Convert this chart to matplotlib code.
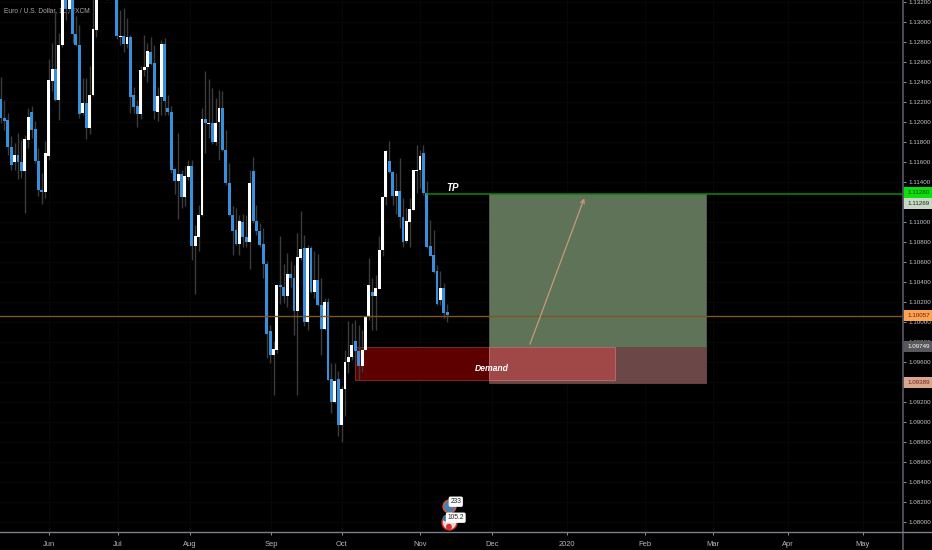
import numpy as np
import matplotlib
matplotlib.use('Agg')
import matplotlib.pyplot as plt
from matplotlib.lines import Line2D
from matplotlib.patches import Rectangle

plt.rcParams['font.family'] = ['Liberation Sans', 'DejaVu Sans']

# EURUSD daily candles
opens = [1.12227, 1.1204, 1.12013, 1.11747, 1.11597, 1.11667, 1.11597, 1.11503, 1.1182, 1.12097,
         1.11927, 1.1161, 1.1132, 1.11293, 1.1166, 1.1241, 1.12527, 1.12213, 1.12763, 1.1327,
         1.13127, 1.1326, 1.1288, 1.1277, 1.12087, 1.12187, 1.11933, 1.1227, 1.1292, 1.133,
         1.1347, 1.1337, 1.1334, 1.1352, 1.1332, 1.12847, 1.12853, 1.1278, 1.12847, 1.1227,
         1.12153, 1.1208, 1.12513, 1.12543, 1.127, 1.12587, 1.121, 1.12247, 1.1278, 1.1214,
         1.121, 1.11527, 1.11403, 1.1148, 1.11247, 1.11447, 1.11553, 1.10753, 1.10847, 1.11063,
         1.1203, 1.1198, 1.11987, 1.11793, 1.11997, 1.1214, 1.11717, 1.1139, 1.1107, 1.1092,
         1.1078, 1.10997, 1.10847, 1.10793, 1.1151, 1.11003, 1.1091, 1.10773, 1.10577, 1.09903,
         1.0967, 1.0972, 1.10363, 1.10347, 1.10253, 1.10473, 1.10437, 1.10103, 1.10637, 1.10737,
         1.09997, 1.10737, 1.10297, 1.10413, 1.1017, 1.0993, 1.102, 1.09427, 1.09197, 1.09427,
         1.0897, 1.09323, 1.09593, 1.09647, 1.0981, 1.09707, 1.0956, 1.0972, 1.10053, 1.10297,
         1.10253, 1.1033, 1.1072, 1.11247, 1.11603, 1.11497, 1.11253, 1.1131, 1.11047, 1.10803,
         1.10997, 1.1112, 1.11503, 1.11513, 1.11687, 1.11287, 1.10753, 1.10667, 1.10503, 1.1022,
         1.10337, 1.10097]
closes = [1.12033, 1.12007, 1.11743, 1.11563, 1.11667, 1.11597, 1.11503, 1.11827, 1.12047, 1.1192,
          1.11603, 1.11313, 1.11293, 1.1169, 1.12413, 1.12527, 1.12213, 1.12763, 1.1332, 1.13127,
          1.1326, 1.12877, 1.1277, 1.12073, 1.12187, 1.11933, 1.1227, 1.12927, 1.133, 1.1347,
          1.1337, 1.1327, 1.1352, 1.1332, 1.12853, 1.12853, 1.1278, 1.12847, 1.12247, 1.12143,
          1.1208, 1.1252, 1.12547, 1.12707, 1.1258, 1.12103, 1.12253, 1.1278, 1.12203, 1.12093,
          1.1152, 1.11403, 1.11477, 1.11247, 1.11453, 1.11553, 1.10753, 1.10853, 1.1107, 1.1203,
          1.11987, 1.1199, 1.11793, 1.11987, 1.1214, 1.11713, 1.11387, 1.11063, 1.10903, 1.1078,
          1.11003, 1.10843, 1.10793, 1.11387, 1.11003, 1.10903, 1.1077, 1.10577, 1.0988, 1.0967,
          1.09727, 1.10363, 1.10347, 1.10253, 1.10473, 1.10437, 1.10103, 1.10643, 1.1073, 1.09997,
          1.10737, 1.10297, 1.10413, 1.1017, 1.0993, 1.102, 1.0942, 1.09197, 1.0941, 1.0897,
          1.0933, 1.09593, 1.09647, 1.0977, 1.09707, 1.0956, 1.0972, 1.1006, 1.10363, 1.10253,
          1.10337, 1.1072, 1.11247, 1.11703, 1.11493, 1.11253, 1.1131, 1.11043, 1.10793, 1.11003,
          1.11127, 1.11513, 1.1152, 1.11653, 1.11287, 1.10747, 1.1066, 1.10497, 1.10177, 1.10337,
          1.10087, 1.10063]
highs = [1.12447, 1.1222, 1.1209, 1.11853, 1.11787, 1.11887, 1.1182, 1.1187, 1.12137, 1.1216,
         1.12003, 1.11737, 1.11487, 1.11803, 1.12627, 1.12787, 1.13103, 1.12887, 1.1337, 1.1332,
         1.1332, 1.1332, 1.13053, 1.1297, 1.12437, 1.12437, 1.12553, 1.1327, 1.1332, 1.1352,
         1.1352, 1.1342, 1.1357, 1.1357, 1.1337, 1.1312, 1.13137, 1.13037, 1.1287, 1.12347,
         1.1222, 1.12553, 1.1287, 1.12787, 1.12847, 1.1277, 1.12347, 1.12813, 1.12837, 1.1227,
         1.12153, 1.11537, 1.11887, 1.1152, 1.11553, 1.1162, 1.1162, 1.1097, 1.1117, 1.12137,
         1.12503, 1.12427, 1.12337, 1.12237, 1.1232, 1.12303, 1.1192, 1.11587, 1.11153, 1.11137,
         1.1107, 1.1108, 1.1107, 1.1152, 1.11647, 1.1117, 1.1099, 1.1094, 1.10603, 1.0997,
         1.09803, 1.1037, 1.10853, 1.1058, 1.1069, 1.10603, 1.1057, 1.1089, 1.11103, 1.1087,
         1.1077, 1.10753, 1.10703, 1.1068, 1.10437, 1.10237, 1.10237, 1.09587, 1.09587, 1.09503,
         1.09353, 1.0972, 1.10003, 1.09987, 1.10013, 1.0997, 1.0992, 1.1006, 1.10637, 1.1044,
         1.10463, 1.1086, 1.11253, 1.1172, 1.11803, 1.11503, 1.1149, 1.11637, 1.11237, 1.1114,
         1.1124, 1.1152, 1.1177, 1.1172, 1.1177, 1.11403, 1.1102, 1.1092, 1.1057, 1.10503,
         1.1039, 1.1018]
lows = [1.11987, 1.1192, 1.1167, 1.1152, 1.1152, 1.11427, 1.11437, 1.11087, 1.11737, 1.11837,
        1.11587, 1.11253, 1.1118, 1.11237, 1.11613, 1.12303, 1.12203, 1.12013, 1.1275, 1.1302,
        1.131, 1.1279, 1.12753, 1.12037, 1.1207, 1.11827, 1.1188, 1.12253, 1.12847, 1.1327,
        1.133, 1.1322, 1.133, 1.1327, 1.12827, 1.1277, 1.12693, 1.12737, 1.12087, 1.12087,
        1.11947, 1.12027, 1.12453, 1.12393, 1.1257, 1.12027, 1.12003, 1.1207, 1.1207, 1.1207,
        1.11487, 1.1128, 1.11027, 1.11137, 1.11153, 1.1142, 1.10613, 1.1028, 1.10703, 1.11053,
        1.11687, 1.11837, 1.1178, 1.1177, 1.1162, 1.11703, 1.1137, 1.11053, 1.1067, 1.1077,
        1.1067, 1.1075, 1.1075, 1.10527, 1.1099, 1.1087, 1.1075, 1.1044, 1.0964, 1.0959,
        1.0927, 1.0969, 1.1018, 1.10187, 1.1015, 1.1035, 1.0987, 1.0927, 1.1062, 1.09953,
        1.0992, 1.10287, 1.1024, 1.10153, 1.0967, 1.0992, 1.09413, 1.09087, 1.09187, 1.08853,
        1.08797, 1.09053, 1.09487, 1.0962, 1.0962, 1.0942, 1.09497, 1.09713, 1.1002, 1.0992,
        1.0992, 1.1033, 1.1066, 1.1117, 1.11487, 1.1117, 1.1108, 1.10937, 1.10743, 1.10787,
        1.10747, 1.11113, 1.11287, 1.11337, 1.1127, 1.10737, 1.10653, 1.10487, 1.1017, 1.1017,
        1.10037, 1.09993]

price_ticks = np.arange(1.080, 1.1321, 0.002)
hidden_ticks = ['1.09400', '1.11200']
month_labels = ['Jun', 'Jul', 'Aug', 'Sep', 'Oct', 'Nov', 'Dec', '2020', 'Feb', 'Mar', 'Apr', 'May']
month_bars = [14.1, 34.3, 55.5, 79.3, 100.1, 123.0, 144.1, 166.1, 189.0, 209.0, 231.0, 253.0]

# (where the tag sits, text, background, text colour)
price_tags = [(1.11290, '1.11280', '#0ce00c', '#0a3a0a'),
              (1.11177, '1.11269', '#c9d8c5', '#1c2a1c'),
              (1.10057, '1.10057', '#ffa355', '#6a1a10'),
              (1.09749, '1.09749', '#58585c', '#ffffff'),
              (1.09389, '1.09389', '#d9a78e', '#6a1a20')]

tp_price = 1.1128
last_price = 1.10057
target_top = 1.1128
entry_price = 1.09749
stop_price = 1.09389
demand_bottom = 1.09420

bg = '#000000'
W, H = 932, 550
fig = plt.figure(figsize=(W / 100, H / 100), dpi=100, facecolor=bg)
ax = fig.add_axes([0, (H - 532.3) / H, 902.7 / W, 532.3 / H], facecolor=bg)
ax.set_xlim(-0.29, 264.7)
ax.set_ylim(1.13217 - 0.05323, 1.13217)

# faint grid
tick_text = [f'{t:.5f}' for t in price_ticks]
ax.set_yticks(price_ticks)
ax.set_yticklabels(['' if t in hidden_ticks else t for t in tick_text])
ax.set_xticks(month_bars)
ax.set_xticklabels(month_labels)
ax.grid(True, color='#070707', linewidth=0.8)
ax.set_axisbelow(True)
ax.yaxis.tick_right()
ax.tick_params(axis='y', length=2.5, width=0.7, color='#8a8d96', labelcolor='#c4c6cc', labelsize=4.5, pad=1.6)
ax.tick_params(axis='x', length=2.5, width=0.7, color='#8a8d96', labelcolor='#b4b6bc', labelsize=5.4, pad=4)
for s in ax.spines.values():
    s.set_visible(False)

# title sits under the candles
ax.text(4 / W, 1 - 11 / H, 'Euro / U.S. Dollar, 1D, FXCM', color='#a8a8a8', fontsize=4.8, ha='left', va='center',
        transform=fig.transFigure, zorder=1.5)

# trade boxes, under the candles
ax.add_patch(Rectangle((143.2, entry_price), 63.7, target_top - entry_price, fc='#5f7359', ec='#55604f', lw=0.6, zorder=1.2))
ax.add_patch(Rectangle((143.2, stop_price), 63.7, entry_price - stop_price, fc='#6b4747', ec='#6b4747', lw=0.6, zorder=1.2))
ax.add_patch(Rectangle((103.9, demand_bottom), 39.3, entry_price - demand_bottom, fc='#5f0000', ec='#7a2a2a', lw=0.7, zorder=1.3))
ax.add_patch(Rectangle((143.2, demand_bottom), 36.9, entry_price - demand_bottom, fc='#a04848', ec='#b06a6a', lw=0.7, zorder=1.3))

# candles
x = np.arange(len(opens))
o = np.array(opens)
c = np.array(closes)
up = c >= o
ax.vlines(x, lows, highs, color='#3c3c3c', linewidth=1.0, zorder=2)
ax.bar(x[up], np.maximum(c[up] - o[up], 0.00008), bottom=o[up], width=0.85, color='#ffffff', zorder=3)
ax.bar(x[~up], np.maximum(o[~up] - c[~up], 0.00008), bottom=c[~up], width=0.85, color='#3a8fdc', zorder=3)

# horizontal levels
ax.plot([125, 264.7], [tp_price, tp_price], color='#0b8a0b', linewidth=1.1, zorder=4)
ax.axhline(last_price, color='#7d5520', linewidth=1.0, zorder=4)

# arrow and labels
ax.annotate('', xy=(171.5, 1.1126), xytext=(155, entry_price),
            arrowprops=dict(arrowstyle='->', color='#c79a78', lw=0.9, mutation_scale=7), zorder=5)
ax.text(132.5, 1.11335, 'TP', color='#ffffff', fontsize=7, fontstyle='italic', fontweight='bold', ha='center', va='center', zorder=6)
ax.text(144.2, 1.09535, 'Demand', color='#ffffff', fontsize=6.2, fontstyle='italic', fontweight='bold', ha='center', va='center', zorder=6)

# price tags on the scale
trans = ax.get_yaxis_transform()
for price, label, fc, tc in price_tags:
    ax.add_patch(Rectangle((1.0, price - 0.00055), 0.033, 0.0011, transform=trans, fc=fc, ec='none', clip_on=False, zorder=7))
    ax.text(1.0055, price, label, transform=trans, color=tc, fontsize=4.5, ha='left', va='center', zorder=8, clip_on=False)

# event badges at the bottom
ax.scatter([131.5], [1.08157], s=85, facecolor='#4a7fae', edgecolor='#e0552a', linewidth=1.0, zorder=6)
ax.scatter([131.5], [1.07997], s=115, facecolor='#e8d8d8', edgecolor='#d83028', linewidth=1.0, zorder=6)
ax.scatter([130.6], [1.08035], s=22, facecolor='#3d6f9e', edgecolor='none', zorder=6)
ax.scatter([131.5], [1.0795], s=18, facecolor='#d83028', edgecolor='none', zorder=6)
tag_box = dict(boxstyle='round,pad=0.25', fc='#ffffff', ec='none')
ax.text(133.5, 1.0820, '233', fontsize=4.8, color='#222222', ha='center', va='center', bbox=tag_box, zorder=7)
ax.text(133.5, 1.0804, '105.2', fontsize=4.8, color='#222222', ha='center', va='center', bbox=tag_box, zorder=7)

# scale borders
fig.add_artist(Line2D([902.7 / W, 902.7 / W], [0, 1], color='#50535e', linewidth=1.3))
fig.add_artist(Line2D([0, 1], [(H - 532.3) / H] * 2, color='#7c7f88', linewidth=1.0))

fig.savefig('out.png', dpi=100, facecolor=bg)
plt.close(fig)
